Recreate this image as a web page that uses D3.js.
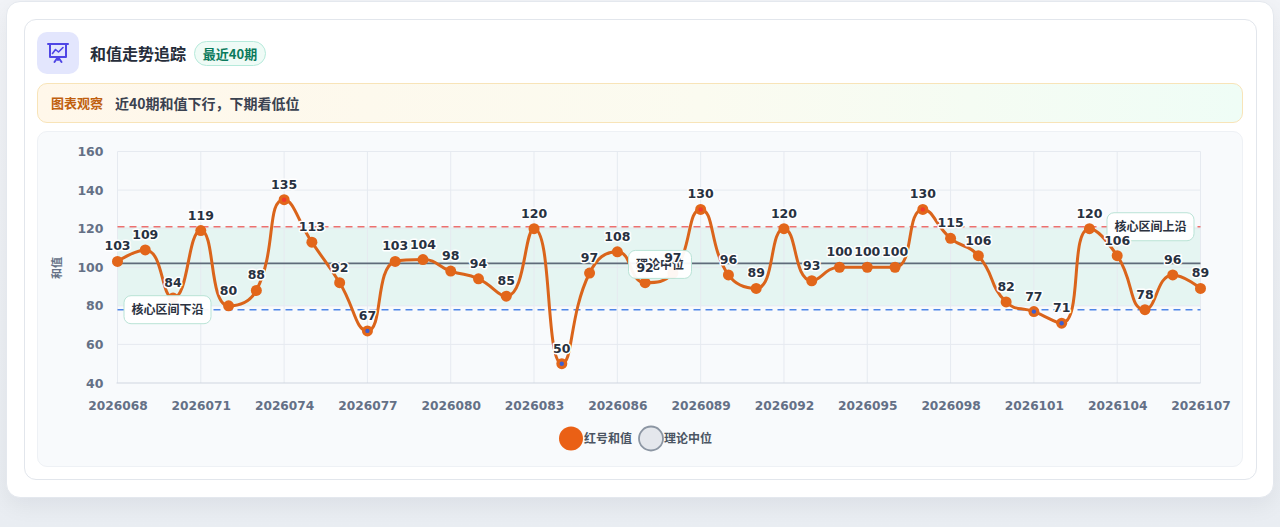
<!DOCTYPE html>
<html>
<head>
<meta charset="utf-8">
<script src="https://cdn.jsdelivr.net/npm/d3@7"></script>
<style>
  body { margin: 0; width: 1280px; height: 527px; overflow: hidden; position: relative;
         background: linear-gradient(180deg, #f1f3f7 0%, #e9edf2 100%);
         font-family: "Noto Sans CJK SC", "Noto Sans", sans-serif; }
  .outer { position: absolute; left: 6px; top: 1px; width: 1268px; height: 497px; background: #fff;
           border: 1px solid #e4e8ee; border-radius: 14px; box-sizing: border-box;
           box-shadow: 0 8px 22px rgba(15, 23, 42, 0.06); }
  .card { position: absolute; left: 24px; top: 19px; width: 1233px; height: 461px; background: #fff;
          border: 1px solid #e2e6ec; border-radius: 12px; box-sizing: border-box; }
  .icon { position: absolute; left: 37px; top: 32px; width: 42px; height: 42px; border-radius: 10px; background: #e3e6fd; }
  .title { position: absolute; left: 90px; top: 41px; font-size: 16px; font-weight: 700; color: #262d3a; line-height: 24px; }
  .badge { position: absolute; left: 194px; top: 41px; width: 72px; height: 25px; box-sizing: border-box;
           border: 1px solid #b6eadb; border-radius: 13px; background: #effbf6; color: #0b7a5c;
           font-size: 13px; font-weight: 700; text-align: center; line-height: 23px; }
  .obs { position: absolute; left: 37px; top: 83px; width: 1206px; height: 40px; box-sizing: border-box;
         border: 1px solid #f8e4b8; border-radius: 10px;
         background: linear-gradient(90deg, #fff7ea 0%, #fbfbf0 55%, #effdf6 100%); }
  .obs .tag { position: absolute; left: 13px; top: 9px; font-size: 13px; font-weight: 700; color: #c0600f; line-height: 20px; }
  .obs .msg { position: absolute; left: 77px; top: 8px; font-size: 14px; font-weight: 700; color: #3a4250; line-height: 22px; }
  .panel { position: absolute; left: 37px; top: 131px; width: 1206px; height: 336px; box-sizing: border-box;
           background: #f8fafc; border: 1px solid #eef1f5; border-radius: 10px; }
  #chart { position: absolute; left: 0; top: 0; }
</style>
</head>
<body>
<div class="outer"></div>
<div class="card"></div>
<div class="icon"></div>
<div class="title">和值走势追踪</div>
<div class="badge">最近40期</div>
<div class="obs"><span class="tag">图表观察</span><span class="msg">近40期和值下行，下期看低位</span></div>
<div class="panel"></div>
<svg id="chart" width="1280" height="527"></svg>
<script>
// 期号与红号和值
var periods = ["2026068","2026069","2026070","2026071","2026072","2026073","2026074","2026075","2026076","2026077",
               "2026078","2026079","2026080","2026081","2026082","2026083","2026084","2026085","2026086","2026087",
               "2026088","2026089","2026090","2026091","2026092","2026093","2026094","2026095","2026096","2026097",
               "2026098","2026099","2026100","2026101","2026102","2026103","2026104","2026105","2026106","2026107"];
var sums = [103,109,84,119,80,88,135,113,92,67,
            103,104,98,94,85,120,50,97,108,92,
            97,130,96,89,120,93,100,100,100,130,
            115,106,82,77,71,120,106,78,96,89];

var yTicks = [40,60,80,100,120,140,160];
var xTickLabels = periods.filter(function(d, i) { return i % 3 === 0; });

var medianValue = 102;   // 理论中位
var coreUpper = 121;     // 核心区间上沿
var coreLower = 78;      // 核心区间下沿
var bandRange = [80, 121];

var legendItems = ["红号和值", "理论中位"];

var svg = d3.select("#chart");
var font = '"DejaVu Sans", "Noto Sans CJK SC", sans-serif';

var x = d3.scalePoint().domain(periods).range([117.5, 1200.5]);
var y = d3.scaleLinear().domain([40, 160]).range([383, 151.5]);

// icon
var ic = svg.append("g").attr("fill", "none").attr("stroke", "#4f46e5").attr("stroke-width", 2)
  .attr("stroke-linecap", "round").attr("stroke-linejoin", "round");
ic.append("line").attr("x1", 48).attr("y1", 44).attr("x2", 68).attr("y2", 44);
ic.append("path").attr("d", "M50,44 V57 H66 V44");
ic.append("path").attr("d", "M52.5,53.5 L55.5,49.5 L58.5,52 L63,47.5").attr("stroke-width", 1.6);
ic.append("path").attr("d", "M58,57 L54.5,62 M58,57 L61.5,62 M58,57 V60");

var plot = svg.append("g");

// band
plot.append("rect")
  .attr("x", x.range()[0]).attr("width", x.range()[1] - x.range()[0])
  .attr("y", y(bandRange[1])).attr("height", y(bandRange[0]) - y(bandRange[1]))
  .attr("fill", "#10b981").attr("fill-opacity", 0.08);

// grid
plot.append("g").selectAll("line").data(yTicks.slice(1)).join("line")
  .attr("x1", x.range()[0]).attr("x2", x.range()[1])
  .attr("y1", function(d) { return y(d); }).attr("y2", function(d) { return y(d); })
  .attr("stroke", "#e6eaf0").attr("stroke-width", 1);
plot.append("g").selectAll("line").data(xTickLabels).join("line")
  .attr("x1", function(d) { return x(d); }).attr("x2", function(d) { return x(d); })
  .attr("y1", y(160)).attr("y2", y(40))
  .attr("stroke", "#e6eaf0").attr("stroke-width", 1);
plot.append("line").attr("x1", x.range()[0] - 1).attr("x2", x.range()[1])
  .attr("y1", y(40)).attr("y2", y(40)).attr("stroke", "#cfd6df").attr("stroke-width", 1.2);

// axes
var yAxis = plot.append("g").attr("transform", "translate(" + x.range()[0] + ",0)")
  .call(d3.axisLeft(y).tickValues(yTicks).tickSize(0).tickPadding(14));
var xAxis = plot.append("g").attr("transform", "translate(0," + y(40) + ")")
  .call(d3.axisBottom(x).tickValues(xTickLabels).tickSize(0).tickPadding(18));
[yAxis, xAxis].forEach(function(a) {
  a.select(".domain").remove();
  a.selectAll("text").attr("font-family", font).attr("font-size", 12.2).attr("font-weight", 700).attr("fill", "#647086");
});
yAxis.selectAll("text").attr("font-size", 12.5);

svg.append("text").attr("transform", "translate(61,268) rotate(-90)")
  .attr("text-anchor", "middle").attr("font-family", font).attr("font-size", 11).attr("font-weight", 700)
  .attr("fill", "#647086").text("和值");

// reference lines
plot.append("line").attr("x1", x.range()[0]).attr("x2", x.range()[1])
  .attr("y1", y(coreUpper)).attr("y2", y(coreUpper))
  .attr("stroke", "#ee6f6f").attr("stroke-width", 1.5).attr("stroke-dasharray", "7,5");
plot.append("line").attr("x1", x.range()[0]).attr("x2", x.range()[1])
  .attr("y1", y(coreLower)).attr("y2", y(coreLower))
  .attr("stroke", "#4f86e8").attr("stroke-width", 1.5).attr("stroke-dasharray", "7,5");
plot.append("line").attr("x1", x.range()[0]).attr("x2", x.range()[1])
  .attr("y1", y(medianValue)).attr("y2", y(medianValue))
  .attr("stroke", "#5f6b7a").attr("stroke-width", 1.8);

// smooth line, same rule as echarts (smooth 0.5, clamped control points)
var pts = periods.map(function(p, i) { return [x(p), y(sums[i])]; });
function smoothPath(points, smooth) {
  var path = d3.path();
  var cp0x, cp0y, prevX, prevY;
  for (var i = 0; i < points.length; i++) {
    var px = points[i][0], py = points[i][1];
    if (i === 0) {
      path.moveTo(px, py);
      cp0x = px; cp0y = py;
    } else {
      var cp1x, cp1y, nx0, ny0;
      if (i === points.length - 1) {
        cp1x = px; cp1y = py;
      } else {
        var nX = points[i + 1][0], nY = points[i + 1][1];
        var vx = nX - prevX, vy = nY - prevY;
        var lenPrev = Math.hypot(px - prevX, py - prevY);
        var lenNext = Math.hypot(nX - px, nY - py);
        var ratio = lenNext / (lenNext + lenPrev);
        nx0 = px + vx * smooth * ratio;
        ny0 = py + vy * smooth * ratio;
        nx0 = Math.max(Math.min(nx0, Math.max(nX, px)), Math.min(nX, px));
        ny0 = Math.max(Math.min(ny0, Math.max(nY, py)), Math.min(nY, py));
        vx = nx0 - px; vy = ny0 - py;
        cp1x = px - vx * lenPrev / lenNext;
        cp1y = py - vy * lenPrev / lenNext;
        cp1x = Math.max(Math.min(cp1x, Math.max(prevX, px)), Math.min(prevX, px));
        cp1y = Math.max(Math.min(cp1y, Math.max(prevY, py)), Math.min(prevY, py));
        vx = px - cp1x; vy = py - cp1y;
        nx0 = px + vx * lenNext / lenPrev;
        ny0 = py + vy * lenNext / lenPrev;
      }
      path.bezierCurveTo(cp0x, cp0y, cp1x, cp1y, px, py);
      cp0x = nx0; cp0y = ny0;
    }
    prevX = px; prevY = py;
  }
  return path.toString();
}

plot.append("path").attr("d", smoothPath(pts, 0.5))
  .attr("fill", "none").attr("stroke", "#da641b").attr("stroke-width", 3)
  .attr("stroke-linejoin", "round").attr("stroke-linecap", "round");

// markers
var dots = plot.append("g").selectAll("g").data(periods).join("g")
  .attr("transform", function(d, i) { return "translate(" + x(d) + "," + y(sums[i]) + ")"; });
dots.append("circle").attr("r", 5.5).attr("fill", "#e2661a");
dots.filter(function(d, i) { return sums[i] > coreUpper || sums[i] < coreLower; })
  .append("circle").attr("r", 2.2)
  .attr("fill", function(d) { return sums[periods.indexOf(d)] > coreUpper ? "#ef3b2f" : "#3d5fd0"; });

// markLine labels
function refLabel(text, cx, cy) {
  var g = plot.append("g").attr("transform", "translate(" + cx + "," + cy + ")");
  var w = 87, h = 28;
  if (text.length === 4) w = 63;
  g.append("rect").attr("x", -w / 2).attr("y", -h / 2).attr("width", w).attr("height", h)
    .attr("rx", 7).attr("fill", "#ffffff").attr("fill-opacity", 0.95)
    .attr("stroke", "#b9e3d6").attr("stroke-width", 1);
  g.append("text").attr("text-anchor", "middle").attr("dy", "0.36em")
    .attr("font-family", font).attr("font-size", 12).attr("font-weight", 700)
    .attr("fill", "#2b3240").text(text);
}
refLabel("核心区间下沿", x.range()[0] + 50, y(coreLower));
refLabel("核心区间上沿", x.range()[1] - 50, y(coreUpper));
refLabel("理论中位", (x.range()[0] + x.range()[1]) / 2 + 1, y(medianValue) + 1);

// value labels
plot.append("g").selectAll("text").data(periods).join("text")
  .attr("x", function(d) { return x(d); })
  .attr("y", function(d, i) { return y(sums[i]) - 11; })
  .attr("text-anchor", "middle")
  .attr("font-family", font).attr("font-size", 12.5).attr("font-weight", 700)
  .attr("fill", "#273140").attr("stroke", "#ffffff").attr("stroke-width", 3)
  .attr("paint-order", "stroke").attr("stroke-linejoin", "round")
  .text(function(d, i) { return sums[i]; });

// legend
var lg = svg.append("g");
var legendX = [571, 651];
lg.selectAll("circle").data(legendItems).join("circle")
  .attr("cx", function(d, i) { return legendX[i]; }).attr("cy", 438.5).attr("r", 12)
  .attr("fill", function(d, i) { return i === 0 ? "#ea6015" : "#e4e7ec"; })
  .attr("stroke", function(d, i) { return i === 0 ? "none" : "#8c96a3"; })
  .attr("stroke-width", 1.8);
lg.selectAll("text").data(legendItems).join("text")
  .attr("x", function(d, i) { return legendX[i] + 13; }).attr("y", 438.5).attr("dy", "0.35em")
  .attr("font-family", font).attr("font-size", 12).attr("font-weight", 700).attr("fill", "#4b5563")
  .text(function(d) { return d; });
</script>
</body>
</html>
